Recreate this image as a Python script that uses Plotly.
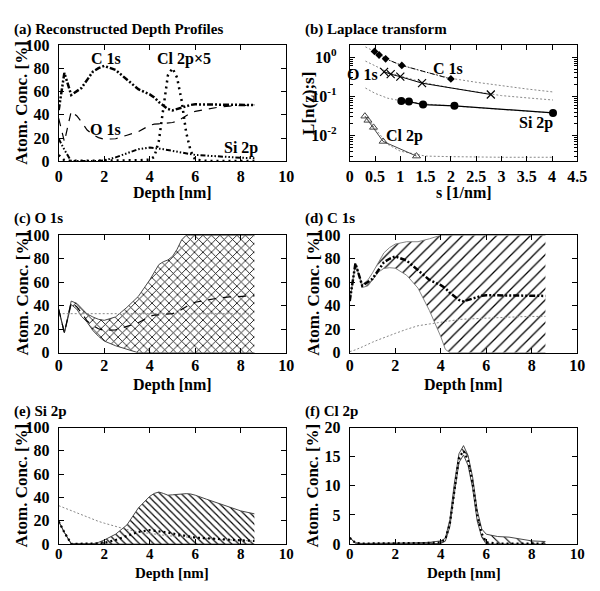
import math
import plotly.graph_objects as go

# ---------------- data ----------------
DEPTH = [0, 0.25, 0.55, 0.8, 1.0, 1.25, 1.5, 1.75, 2.0, 2.5, 3.0, 3.5, 4.0, 4.2, 4.4,
         4.6, 4.8, 5.0, 5.2, 5.4, 5.6, 5.8, 6.0, 6.5, 7.0, 7.5, 8.0, 8.6]

C1S_MEAN = [44, 76, 57, 60, 63, 70, 77, 80, 82, 78.5, 70, 62, 57.5, 55, 51,
            48, 45, 43.8, 45, 46.5, 47.5, 48.5, 49, 48.8, 48.5, 48.3, 48.3, 48.4]
C1S_UPPER = [44, 76, 58, 62, 68, 76, 85, 89.5, 92.5, 94.5, 94.5, 97, 100, 100, 100,
             100, 100, 100, 100, 100, 100, 100, 100, 100, 100, 100, 100, 100]
C1S_LOWER = [44, 76, 55.5, 57, 62, 68.5, 71.8, 72.4, 72, 66, 55, 36, 13.8, 3, 0,
             0, 0, 0, 0, 0, 0, 0, 0, 0, 0, 0, 0, 0]
C1S_REF = [1, 2.5, 5, 7.5, 9, 11, 13, 15, 16.5, 20, 23, 24.5, 26, 27, 27.5,
           28, 28.3, 28.6, 28.8, 29, 29.3, 29.6, 29.8, 30.2, 30.5, 30.7, 30.9, 31]

O1S_MEAN = [37, 17, 43, 39, 34, 27, 23, 20.5, 19, 19.5, 22.5, 25.5, 31, 32, 32.3,
            32.6, 33, 33.4, 34.5, 37, 39.5, 41.5, 43, 45, 46.5, 47.5, 48, 48.5]
O1S_UPPER = [37, 17, 44, 42, 38, 33, 30.5, 28.5, 27.6, 30.5, 38.7, 48, 62, 68, 75,
             77.5, 79, 82, 88, 96, 100, 100, 100, 100, 100, 100, 100, 100]
O1S_LOWER = [37, 17, 41, 37, 31, 26, 19, 14, 10, 6, 3, 0, 0, 0, 0,
             0, 0, 0, 0, 0, 0, 0, 0, 0, 0, 0, 0, 0]
O1S_REF_LEVEL = 33.3

SI2P_MEAN = [19.5, 10, 0.3, 0.2, 0.2, 0.2, 0.2, 0.4, 1, 3.5, 7, 10.5, 12, 11.8, 11,
             10.5, 9.8, 9, 8, 7.7, 7, 6.2, 5.6, 5, 4.2, 3.7, 3.2, 2.8]
SI2P_UPPER = [19.5, 10, 0.3, 0.2, 0.2, 0.2, 0.3, 1.5, 3.5, 8.5, 16.5, 31, 41, 43.5, 44.7,
              43.5, 42, 42.3, 42.8, 43, 43.3, 43, 42, 38.5, 35, 31.5, 28.5, 26]
SI2P_LOWER = [19.5, 10, 0.3, 0, 0, 0, 0, 0, 0, 0, 0, 0, 0, 0, 0,
              0, 0, 0, 0, 0, 0, 0, 0, 0, 0, 0, 0, 0]
SI2P_REF = [33, 31, 29, 27, 25, 23, 21, 19.5, 18, 15, 12.5, 10.5, 9, 8.5, 8,
            7.5, 7.2, 6.9, 6.6, 6.3, 6, 5.7, 5.4, 4.8, 4.2, 3.7, 3.2, 2.7]

CL2P_MEAN = [1.1, 0.2, 0.1, 0.1, 0.1, 0.1, 0.1, 0.1, 0.1, 0.15, 0.15, 0.2, 0.3, 0.8, 3.5,
             9.5, 14.8, 16.0, 14.4, 10.5, 5.0, 1.8, 0.3, 0.1, 0.1, 0.1, 0.1, 0.1]
CL2P_UPPER = [1.1, 0.2, 0.12, 0.12, 0.12, 0.12, 0.12, 0.12, 0.15, 0.2, 0.25, 0.3, 0.55, 1.0, 4.2,
              10.5, 15.5, 16.9, 15.2, 11.5, 5.8, 2.6, 1.7, 1.3, 1.2, 0.9, 0.55, 0.45]
CL2P_LOWER = [1.1, 0.2, 0.05, 0.05, 0.05, 0.05, 0.05, 0.05, 0.05, 0.05, 0.05, 0.05, 0.1, 0.5, 3.0,
              8.8, 14.0, 15.3, 13.5, 9.6, 4.0, 1.2, 0, 0, 0, 0, 0, 0]
CL_SCALE = 5

# Laplace transform panel
S_C1S = [0.49, 0.58, 0.71, 1.03, 2.0]
L_C1S = [1.41, 1.14, 0.91, 0.62, 0.279]
S_O1S = [0.68, 0.81, 1.0, 1.43, 2.79]
L_O1S = [0.425, 0.37, 0.319, 0.218, 0.112]
S_SI2P = [1.02, 1.17, 1.45, 2.07, 4.02]
L_SI2P = [0.0766, 0.0738, 0.062, 0.0575, 0.0379]
S_CL2P = [0.30, 0.36, 0.47, 0.66, 1.32]
L_CL2P = [0.0313, 0.0245, 0.0162, 0.0071, 0.0030]

S_FIT = [0.31, 0.5, 0.75, 1.0, 1.5, 2.0, 2.5, 3.0, 3.5, 4.02]
FIT_C1S = [1.84, 1.38, 0.88, 0.63, 0.42, 0.29, 0.23, 0.185, 0.155, 0.13]
FIT_O1S = [0.80, 0.60, 0.42, 0.33, 0.22, 0.165, 0.13, 0.105, 0.092, 0.081]
FIT_SI2P = [0.164, 0.12, 0.09, 0.078, 0.064, 0.057, 0.052, 0.047, 0.042, 0.038]
FIT_CL2P = [0.031, 0.015, 0.0060, 0.0040, 0.0030, 0.0029, 0.0028, 0.0028, 0.0028, 0.0028]

X_TICKS_DEPTH = [0, 2, 4, 6, 8, 10]
Y_TICKS_PCT = [0, 20, 40, 60, 80, 100]
Y_TICKS_CL = [0, 5, 10, 15, 20]
X_TICKS_S = [0, 0.5, 1, 1.5, 2, 2.5, 3, 3.5, 4, 4.5]
Y_TICKS_LOG = [1, 0.1, 0.01]
Y_TICKTEXT_LOG = ["10<sup>0</sup>", "10<sup>-1</sup>", "10<sup>-2</sup>"]

TITLES = ["(a) Reconstructed Depth Profiles", "(b) Laplace transform", "(c) O 1s",
          "(d) C 1s", "(e) Si 2p", "(f) Cl 2p"]

# ---------------- layout geometry ----------------
W, H = 600, 591
FONT = "Liberation Serif, Times New Roman, serif"
COLS = [(56, 289), (354, 587)]
ROWS = [(38, 158), (234, 355), (432, 552)]


def px(x):
    return x / W


def py(y):
    return 1 - y / H


fig = go.Figure()

DASH_DDOT = "6px,2px,2px,2px,2px,2px"
DASH_DDDOT = "5px,2px,1.5px,2px,1.5px,2px,1.5px,2px"
REF_LINE = dict(color="#888", width=1, dash="2px,2px")


def line(x, y, ax, **kw):
    fig.add_trace(go.Scatter(x=x, y=y, xaxis="x" + ax, yaxis="y" + ax, mode="lines",
                             showlegend=False, hoverinfo="skip", **kw))


def band(ax, lower, upper, shape, size, solidity, bcolor="#333"):
    line(DEPTH, lower, ax, line=dict(color=bcolor, width=0.9))
    line(DEPTH, upper, ax, line=dict(color=bcolor, width=0.9),
         fill="tonexty", fillcolor="rgba(0,0,0,0)",
         fillpattern=dict(shape=shape, size=size, solidity=solidity, fgcolor="#000",
                          fgopacity=1, bgcolor="rgba(255,255,255,0)"))


# (a)
line(DEPTH, C1S_MEAN, "", line=dict(color="black", width=2.5, dash=DASH_DDOT))
line(DEPTH, O1S_MEAN, "", line=dict(color="black", width=1.2, dash="8px,7px"))
line(DEPTH, SI2P_MEAN, "", line=dict(color="black", width=2, dash=DASH_DDDOT))
line(DEPTH, [v * CL_SCALE for v in CL2P_MEAN], "", line=dict(color="black", width=2.5, dash="2px,4px"))

# (b)
for fit in (FIT_C1S, FIT_O1S, FIT_SI2P, FIT_CL2P):
    fig.add_trace(go.Scatter(x=S_FIT, y=fit, xaxis="x2", yaxis="y2", mode="lines", line=REF_LINE,
                             showlegend=False, hoverinfo="skip"))
fig.add_trace(go.Scatter(x=S_C1S, y=L_C1S, xaxis="x2", yaxis="y2", mode="lines+markers",
                         line=dict(color="black", width=1, dash="5px,2px,1px,2px"),
                         marker=dict(symbol="diamond", size=6, color="black"), showlegend=False))
fig.add_trace(go.Scatter(x=S_O1S, y=L_O1S, xaxis="x2", yaxis="y2", mode="lines+markers",
                         line=dict(color="black", width=1),
                         marker=dict(symbol="x-thin", size=8, line=dict(width=1.2, color="black")),
                         showlegend=False))
fig.add_trace(go.Scatter(x=S_SI2P, y=L_SI2P, xaxis="x2", yaxis="y2", mode="lines+markers",
                         line=dict(color="black", width=1.2),
                         marker=dict(symbol="circle", size=8, color="black"), showlegend=False))
fig.add_trace(go.Scatter(x=S_CL2P, y=L_CL2P, xaxis="x2", yaxis="y2", mode="lines+markers",
                         line=dict(color="#444", width=1),
                         marker=dict(symbol="triangle-up-open", size=7, line=dict(width=1, color="#555")),
                         showlegend=False))

# (c)
band("3", O1S_LOWER, O1S_UPPER, "x", 6, 0.25)
line([DEPTH[0], DEPTH[-1]], [O1S_REF_LEVEL, O1S_REF_LEVEL], "3", line=REF_LINE)
line(DEPTH, O1S_MEAN, "3", line=dict(color="black", width=1.2, dash="8px,7px"))

# (d)
band("4", C1S_LOWER, C1S_UPPER, "/", 8, 0.16, bcolor="#777")
line(DEPTH, C1S_REF, "4", line=REF_LINE)
line(DEPTH, C1S_MEAN, "4", line=dict(color="black", width=2.5, dash=DASH_DDOT))

# (e)
band("5", SI2P_LOWER, SI2P_UPPER, "\\", 5, 0.24)
line(DEPTH, SI2P_REF, "5", line=REF_LINE)
line(DEPTH, SI2P_MEAN, "5", line=dict(color="black", width=2.2, dash="2px,3px"))

# (f)
band("6", CL2P_LOWER, CL2P_UPPER, "\\", 8, 0.14)
line(DEPTH, CL2P_MEAN, "6", line=dict(color="black", width=2.2, dash="2px,3px"))

# ---------------- axes ----------------
tickfont = dict(family=FONT, size=16, color="black", weight="bold")
tickfont_low = dict(family=FONT, size=15, color="black", weight="bold")
base = dict(showline=True, linecolor="black", linewidth=1, mirror="ticks", ticks="inside",
            ticklen=5, tickcolor="black", tickwidth=1, showgrid=False, zeroline=False,
            tickfont=tickfont, fixedrange=True)

layout = {}
panels = [(0, 0), (0, 1), (1, 0), (1, 1), (2, 0), (2, 1)]
for i, (r, c) in enumerate(panels):
    n = "" if i == 0 else str(i + 1)
    x0, x1 = COLS[c]
    y0, y1 = ROWS[r]
    xa = dict(base, domain=[px(x0), px(x1)], anchor="y" + n, ticklabelstandoff=0)
    if r == 1:
        xa.update(ticklabelstandoff=-2)
    if r == 2:
        xa.update(ticklabelstandoff=-4, tickfont=tickfont_low)
    ya = dict(base, domain=[py(y1), py(y0)], anchor="x" + n, ticklabelstandoff=5)
    if i == 1:
        xa.update(range=[0, 4.5], tickmode="array", tickvals=X_TICKS_S)
        ya.update(type="log", range=[-2.66, 0.315], tickmode="array", tickvals=Y_TICKS_LOG,
                  ticktext=Y_TICKTEXT_LOG, ticklabelstandoff=9,
                  minor=dict(tickmode="array", ticks="inside", ticklen=3, tickcolor="black",
                             tickvals=[k * 10 ** e for e in (-3, -2, -1, 0) for k in range(2, 10)]))
    else:
        xa.update(range=[0, 10], tickmode="array", tickvals=X_TICKS_DEPTH)
        if i == 5:
            ya.update(range=[0, 20], tickmode="array", tickvals=Y_TICKS_CL)
        else:
            ya.update(range=[0, 100], tickmode="array", tickvals=Y_TICKS_PCT)
    layout["xaxis" + n] = xa
    layout["yaxis" + n] = ya

fig.update_layout(**layout)

# ---------------- annotations ----------------
tfont = dict(family=FONT, size=15, color="black", weight="bold")
xfont = dict(family=FONT, size=16, color="black", weight="bold")
xfont_low = dict(family=FONT, size=15, color="black", weight="bold")
yfont = dict(family=FONT, size=17, color="black", weight="bold")
title_pos = [(8, 22), (306, 22), (8, 217), (306, 217), (8, 415), (306, 415)]
for t, (x, y) in zip(TITLES, title_pos):
    fig.add_annotation(text=t, x=px(x), y=py(y), xref="paper", yref="paper", xanchor="left",
                       yanchor="middle", showarrow=False, font=tfont)

xtitle_y = [190, 388, 582]
for r, yy in enumerate(xtitle_y):
    for c in range(2):
        txt = "s [1/nm]" if (r == 0 and c == 1) else "Depth [nm]"
        fig.add_annotation(text=txt, x=px((COLS[c][0] + COLS[c][1]) / 2), y=py(yy),
                           xref="paper", yref="paper", showarrow=False,
                           font=xfont_low if r == 2 else xfont, borderpad=0,
                           xanchor="center", yanchor="middle")
        ytxt = "L[n(z);s]" if (r == 0 and c == 1) else "Atom. Conc. [%]"
        fig.add_annotation(text=ytxt, x=px(18 if c == 0 else (311 if r == 0 else 316)),
                           y=py((ROWS[r][0] + ROWS[r][1]) / 2), xref="paper", yref="paper",
                           showarrow=False, font=yfont, textangle=-90, borderpad=0,
                           xanchor="center", yanchor="middle")

# labels inside (a)
lab = dict(family=FONT, size=16, color="black", weight="bold")
for txt, x, y in [("C 1s", 2.1, 88), ("Cl 2p×5", 5.5, 88), ("O 1s", 2.05, 27), ("Si 2p", 8.0, 11.5)]:
    fig.add_annotation(text=txt, x=x, y=y, xref="x", yref="y", showarrow=False, font=lab)
# labels inside (b)
for txt, x, y in [("C 1s", 1.94, 0.52), ("O 1s", 0.26, 0.37), ("Si 2p", 3.68, 0.021), ("Cl 2p", 1.09, 0.0096)]:
    fig.add_annotation(text=txt, x=x, y=math.log10(y), xref="x2", yref="y2", showarrow=False, font=lab)

fig.update_layout(width=W, height=H, autosize=False, margin=dict(l=0, r=0, t=0, b=0),
                  paper_bgcolor="white", plot_bgcolor="white", showlegend=False)

fig.write_html("out.html", config={"displayModeBar": False},
               post_script="document.body.style.margin='0';document.body.style.padding='0';"
                           "document.body.style.overflow='hidden';")
